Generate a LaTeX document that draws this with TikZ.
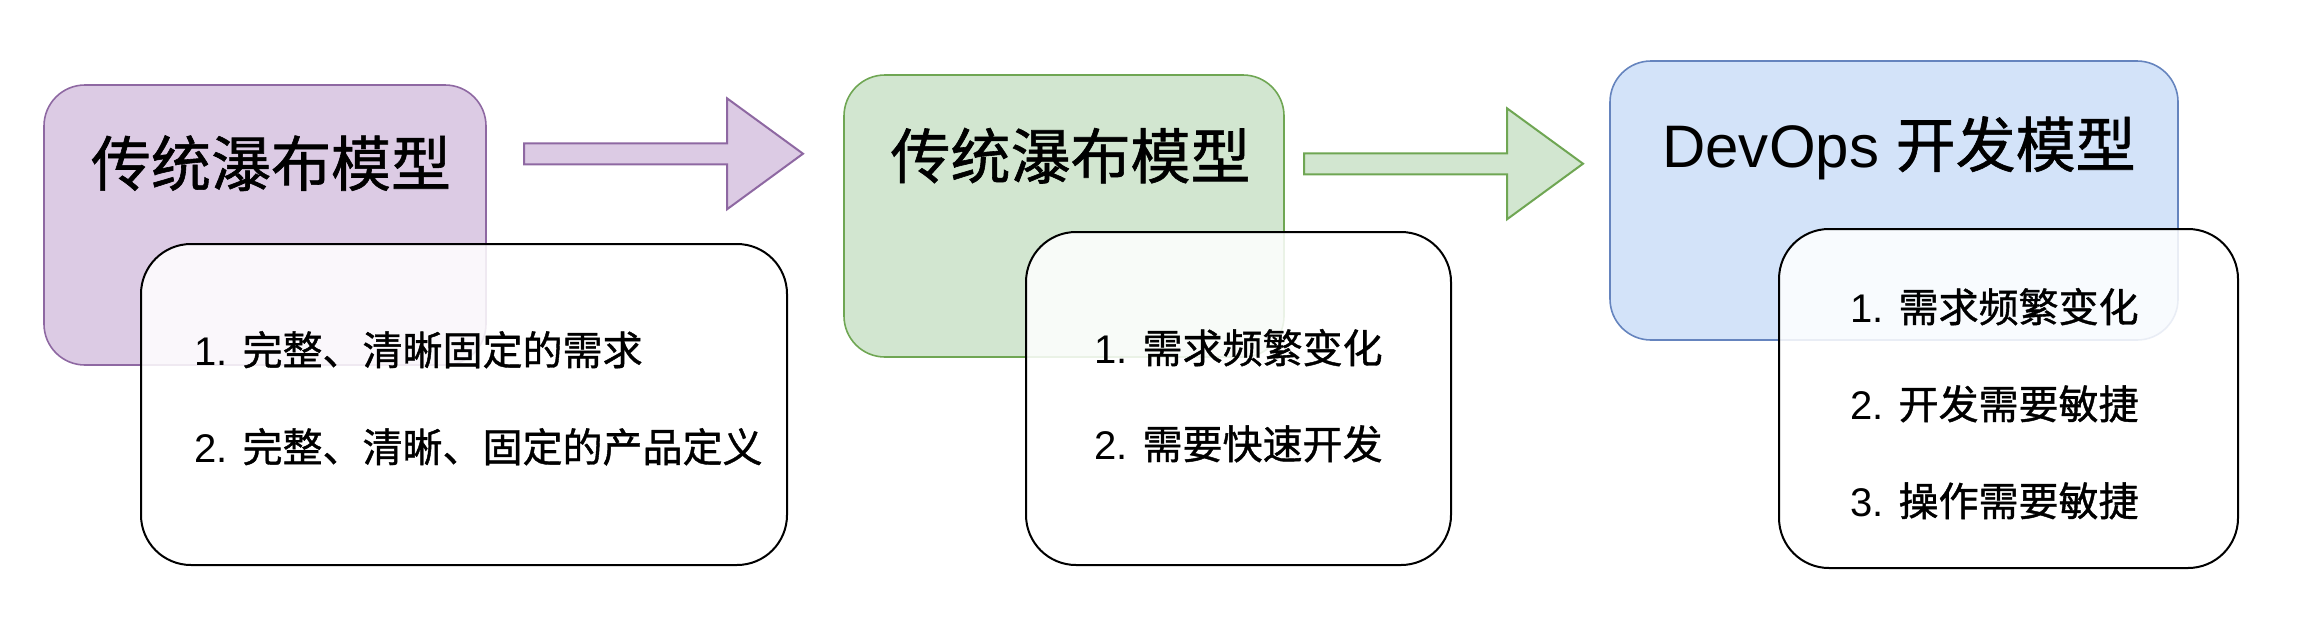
\documentclass[tikz,border=0pt]{standalone}
\usepackage{fontspec}
\setmainfont{Liberation Sans}
\newfontfamily\cjk[FakeBold=1]{Noto Sans CJK SC}
\definecolor{pfill}{HTML}{DCCBE4}
\definecolor{pline}{HTML}{8E68A2}
\definecolor{gfill}{HTML}{D2E6D0}
\definecolor{gline}{HTML}{6FA653}
\definecolor{bfill}{HTML}{D3E3F9}
\definecolor{bline}{HTML}{6584BE}
\begin{document}
\begin{tikzpicture}[x=0.5pt,y=-0.5pt,
  cbox/.style={rectangle,rounded corners=20.5pt,line width=0.8pt,inner sep=0pt},
  wbox/.style={rectangle,rounded corners=25pt,draw=black,line width=1pt,fill=white,fill opacity=0.86,inner sep=0pt},
  blockarrow/.style={line width=1pt,line join=miter},
  titletext/.style={inner sep=0pt,anchor=base,font=\fontsize{30pt}{36pt}\selectfont},
  itemtext/.style={inner sep=0pt,anchor=base west,font=\fontsize{20pt}{24pt}\selectfont}]
\useasboundingbox (0,0) rectangle (2306,632);
% coloured boxes
\node[cbox,draw=pline,fill=pfill,minimum width=221pt,minimum height=140pt] (pbox) at (265,225) {};
\node[cbox,draw=gline,fill=gfill,minimum width=220pt,minimum height=141pt] (gbox) at (1064,216) {};
\node[cbox,draw=bline,fill=bfill,minimum width=284pt,minimum height=139.5pt] (bbox) at (1894,200.5) {};
% block arrows
\coordinate (a1) at (524,153.7);
\coordinate (a2) at (1304,163.5);
\draw[blockarrow,draw=pline,fill=pfill] (a1) ++(0,-10.4) -- ++(203,0) -- ++(0,-45) -- ++(76,55.4) -- ++(-76,55.6) -- ++(0,-45) -- ++(-203,0) -- cycle;
\draw[blockarrow,draw=gline,fill=gfill] (a2) ++(0,-10.2) -- ++(203,0) -- ++(0,-45) -- ++(76,55.4) -- ++(-76,55.6) -- ++(0,-45) -- ++(-203,0) -- cycle;
% white boxes
\node[wbox,minimum width=323pt,minimum height=160.5pt] (wbox1) at (464,404.5) {};
\node[wbox,minimum width=212.5pt,minimum height=166.5pt] (wbox2) at (1238.5,398.5) {};
\node[wbox,minimum width=229.5pt,minimum height=169.5pt] (wbox3) at (2008.5,398.5) {};
% titles
\node[titletext] (ptitle) at (271,186) {\cjk 传统瀑布模型};
\node[titletext] (gtitle) at (1070.5,178.5) {\cjk 传统瀑布模型};
\node[titletext] (btitle) at (1899,167) {DevOps {\cjk 开发模型}};
% items
\node[itemtext] (p1) at (194,365) {1. {\cjk 完整、清晰固定的需求}};
\node[itemtext] (p2) at (194,462) {2. {\cjk 完整、清晰、固定的产品定义}};
\node[itemtext] (g1) at (1094,363) {1. {\cjk 需求频繁变化}};
\node[itemtext] (g2) at (1094,459) {2. {\cjk 需要快速开发}};
\node[itemtext] (b1) at (1850,322) {1. {\cjk 需求频繁变化}};
\node[itemtext] (b2) at (1850,419) {2. {\cjk 开发需要敏捷}};
\node[itemtext] (b3) at (1850,516) {3. {\cjk 操作需要敏捷}};
\end{tikzpicture}
\end{document}
